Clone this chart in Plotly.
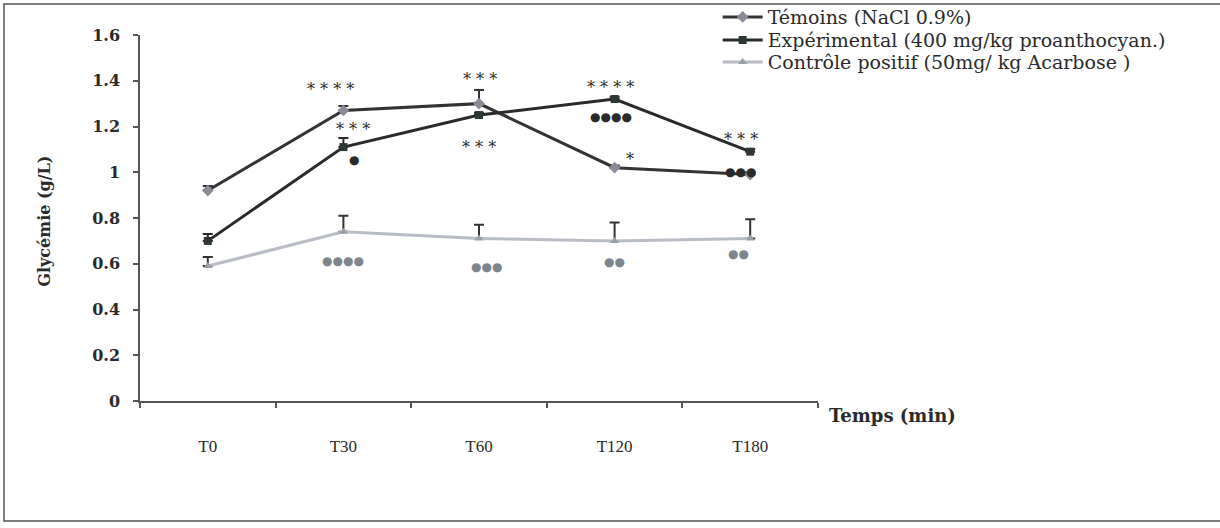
import plotly.graph_objects as go

categories = ["T0", "T30", "T60", "T120", "T180"]
temoins = [0.92, 1.27, 1.30, 1.02, 0.99]
temoins_err = [0.02, 0.02, 0.06, 0.01, 0.01]
experimental = [0.70, 1.11, 1.25, 1.32, 1.09]
experimental_err = [0.03, 0.04, 0.01, 0.01, 0.01]
controle = [0.59, 0.74, 0.71, 0.70, 0.71]
controle_err = [0.04, 0.07, 0.06, 0.08, 0.085]
y_ticks = [0, 0.2, 0.4, 0.6, 0.8, 1, 1.2, 1.4, 1.6]

# significance labels: (category index, y value, text, pixel shift, colour kind)
sig_labels = [
    (1, 1.373, "* * * *", -13, "dark"),
    (1, 1.198, "* * *", 10, "dark"),
    (1, 1.054, "●", 11, "dark"),
    (2, 1.416, "* * *", 1, "dark"),
    (2, 1.119, "* * *", 0, "dark"),
    (3, 1.381, "* * * *", -4, "dark"),
    (3, 1.242, "●●●●", -4, "dark"),
    (3, 1.067, "*", 15, "dark"),
    (4, 1.154, "* * *", -9, "dark"),
    (4, 1.001, "●●●", -10, "dark"),
    (1, 0.612, "●●●●", 0, "gray"),
    (2, 0.586, "●●●", 7, "gray"),
    (3, 0.608, "●●", 0, "gray"),
    (4, 0.643, "●●", -12, "gray"),
]

xs = list(range(len(categories)))
SERIF = "Liberation Serif"
WIDE = "DejaVu Serif"

fig = go.Figure()
fig.add_trace(go.Scatter(
    x=xs, y=temoins, name="Témoins (NaCl 0.9%)", mode="lines+markers",
    legend="legend",
    line=dict(color="#333333", width=3),
    marker=dict(symbol="diamond", size=9, color="#8a8a98"),
    error_y=dict(type="data", symmetric=False, array=temoins_err,
                 arrayminus=[0] * 5, color="#333333", thickness=2, width=5),
))
fig.add_trace(go.Scatter(
    x=xs, y=experimental, name="Expérimental (400 mg/kg proanthocyan.)",
    mode="lines+markers", legend="legend2",
    line=dict(color="#2a2a2a", width=3),
    marker=dict(symbol="square", size=8, color="#2e3833"),
    error_y=dict(type="data", symmetric=False, array=experimental_err,
                 arrayminus=[0] * 5, color="#2a2a2a", thickness=2, width=5),
))
fig.add_trace(go.Scatter(
    x=xs, y=controle, name="Contrôle positif (50mg/ kg Acarbose )",
    mode="lines+markers", legend="legend3",
    line=dict(color="#b8bcc4", width=3),
    marker=dict(symbol="triangle-up", size=8, color="#9aa0a8"),
    error_y=dict(type="data", symmetric=False, array=controle_err,
                 arrayminus=[0] * 5, color="#333333", thickness=2, width=5),
))

for ci, yv, txt, sh, kind in sig_labels:
    star = "*" in txt
    fig.add_annotation(
        x=ci, y=yv + (-0.012 if star else 0), text=txt, showarrow=False,
        xshift=sh, xanchor="center", yanchor="middle",
        font=dict(family=WIDE if star else "DejaVu Sans",
                  size=16 if star else 12,
                  color="#2a2a2a" if kind == "dark" else "#7d858d"),
    )

fig.add_annotation(
    xref="paper", yref="paper", x=-0.14, y=0.49, text="<b>Glycémie (g/L)</b>",
    textangle=-90, showarrow=False, xanchor="center", yanchor="middle",
    font=dict(family=WIDE, size=16, color="#2a2a2a"),
)
fig.add_annotation(
    xref="paper", yref="paper", x=1.013, y=-0.04, text="<b>Temps (min)</b>",
    showarrow=False, xanchor="left", yanchor="middle",
    font=dict(family=WIDE, size=18, color="#2a2a2a"),
)

fig.add_shape(type="rect", xref="paper", yref="paper",
              x0=-0.2006, x1=1.7906, y0=-0.3279, y1=1.0847,
              line=dict(color="#555555", width=1.5))

leg_common = dict(x=0.852, xanchor="left", yanchor="middle",
                  font=dict(family=WIDE, size=19, color="#2a2a2a"),
                  bgcolor="rgba(0,0,0,0)", itemwidth=40)

fig.update_layout(
    width=1220, height=528,
    margin=dict(l=140, r=402, t=35, b=127, autoexpand=False),
    paper_bgcolor="white", plot_bgcolor="white",
    showlegend=True,
    legend=dict(y=1.049, **leg_common),
    legend2=dict(y=0.986, **leg_common),
    legend3=dict(y=0.926, **leg_common),
    xaxis=dict(
        range=[-0.5, 4.5], tickvals=xs, ticktext=categories,
        showline=True, linecolor="#555555", linewidth=1.5,
        showgrid=False, zeroline=False, ticks="",
        ticklabelstandoff=29,
        tickfont=dict(family=SERIF, size=17, color="#2a2a2a"),
        minor=dict(tick0=-0.5, dtick=1, ticks="outside", ticklen=5,
                   tickcolor="#555555", tickwidth=1.5, showgrid=False),
    ),
    yaxis=dict(
        range=[0, 1.6], tickvals=y_ticks,
        showline=True, linecolor="#555555", linewidth=1.5,
        showgrid=False, zeroline=False, ticks="outside", ticklen=5,
        tickcolor="#555555", tickwidth=1.5, ticklabelstandoff=10,
        tickfont=dict(family=WIDE, size=16, color="#2a2a2a", weight="bold"),
    ),
)

fig.write_html("out.html")
